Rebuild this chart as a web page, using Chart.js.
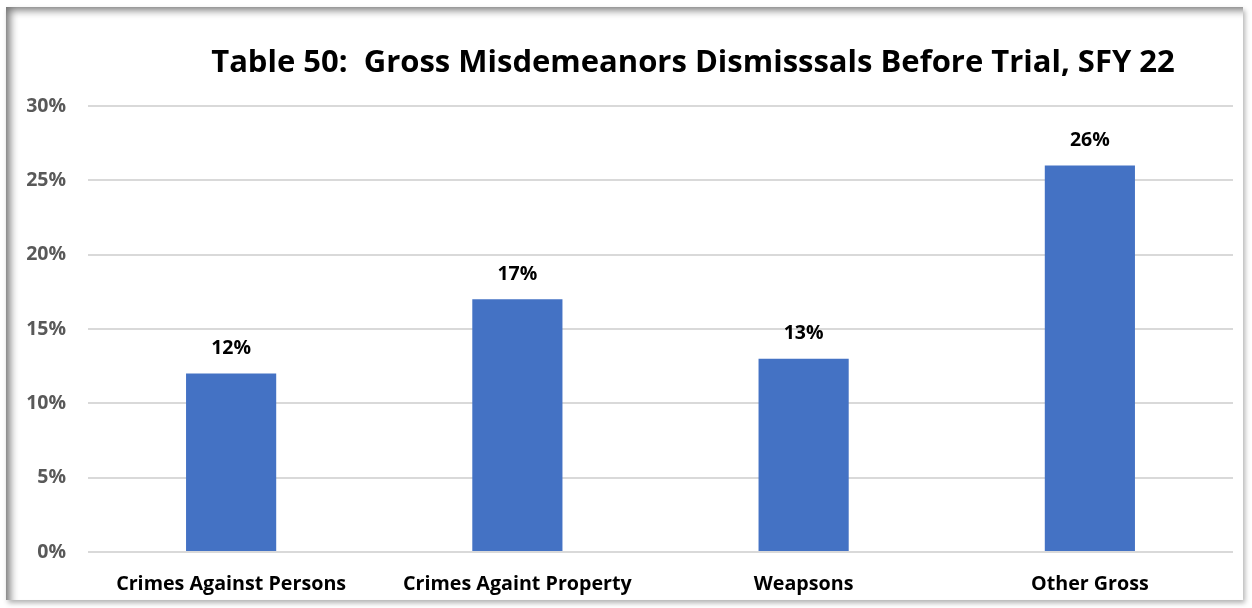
<!DOCTYPE html>
<html>
<head>
<meta charset="utf-8">
<script src="https://cdn.jsdelivr.net/npm/chart.js@4"></script>
<style>
  html, body { margin: 0; padding: 0; background: #ffffff; }
  body { width: 1252px; height: 608px; position: relative; overflow: hidden; }
  #card { position: absolute; left: 6px; top: 7px; width: 1237px; height: 593px;
          background: #ffffff;
          box-shadow: inset 7px 6px 9px -3px rgba(0,0,0,0.55), 2px 3px 5px rgba(0,0,0,0.3); }
  #wrap { position: absolute; left: 0; top: 0; width: 1252px; height: 608px; }
  #title { position: absolute; left: 0; width: 1386px; top: 39px; text-align: center;
           font-family: "Open Sans", "DejaVu Sans", sans-serif; font-weight: bold; font-size: 31px;
           color: #000; white-space: nowrap; }
</style>
</head>
<body>
<div id="card"></div>
<div id="wrap"><canvas id="c" width="1252" height="608"></canvas></div>
<div id="title">Table 50:&nbsp; Gross Misdemeanors Dismisssals Before Trial, SFY 22</div>
<script>
const categories = ["Crimes Against Persons", "Crimes Againt Property", "Weapsons", "Other Gross"];
const values = [12, 17, 13, 26];
const yTicks = [0, 5, 10, 15, 20, 25, 30];

const FONT = '"Open Sans", "DejaVu Sans", sans-serif';

const labelPlugin = {
  id: 'barLabels',
  afterDatasetsDraw(chart) {
    const ctx = chart.ctx;
    const meta = chart.getDatasetMeta(0);
    ctx.save();
    ctx.font = 'bold 19.5px ' + FONT;
    ctx.fillStyle = '#000';
    ctx.textAlign = 'center';
    ctx.textBaseline = 'middle';
    meta.data.forEach((bar, i) => {
      ctx.fillText(values[i] + '%', bar.x, bar.y - 25);
    });
    ctx.restore();
  }
};

new Chart(document.getElementById('c'), {
  type: 'bar',
  data: {
    labels: categories,
    datasets: [{
      data: values,
      backgroundColor: '#4472C4',
      borderWidth: 0,
      categoryPercentage: 1.0,
      barPercentage: 0.315
    }]
  },
  options: {
    responsive: false,
    animation: false,
    layout: { padding: { left: 0, right: 19, top: 106, bottom: 0 } },
    plugins: { legend: { display: false }, tooltip: { enabled: false }, title: { display: false } },
    scales: {
      x: {
        grid: { display: false, drawTicks: false },
        border: { display: false },
        afterFit(axis) { axis.height = 56; },
        ticks: { color: '#000', font: { family: FONT, weight: 'bold', size: 19.7 }, padding: 21 }
      },
      y: {
        min: 0, max: 30,
        afterBuildTicks(axis) { axis.ticks = yTicks.map(v => ({ value: v })); },
        afterFit(axis) { axis.width = 88; },
        grid: { color: '#d9d9d9', lineWidth: 2, drawTicks: false },
        border: { display: false },
        ticks: { color: '#595959', font: { family: FONT, weight: 'bold', size: 19.5 }, padding: 22,
                 callback: v => v + '%' }
      }
    }
  },
  plugins: [labelPlugin]
});
</script>
</body>
</html>
